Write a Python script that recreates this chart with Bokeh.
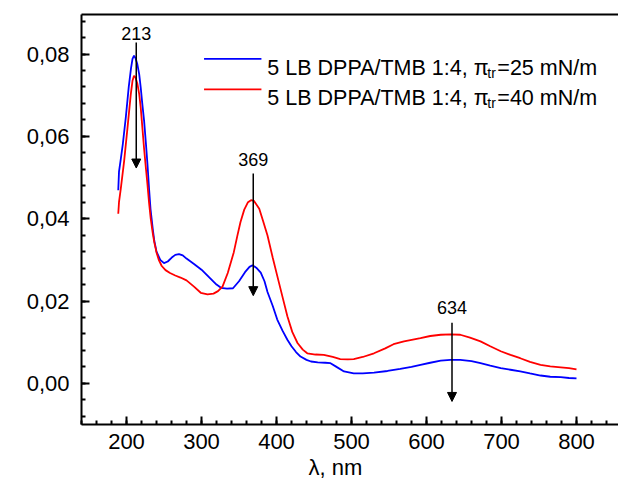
from bokeh.plotting import figure
from bokeh.models import Label, Arrow, NormalHead, FixedTicker, LinearAxis, Range1d, Title
from bokeh.embed import file_html
from bokeh.resources import INLINE

# ---------------- data ----------------
wl_blue = [189, 190, 192, 195, 199, 203, 206, 208, 210, 212, 214.5, 217, 219, 221, 223.5, 226, 228, 230,
           232, 235, 237, 240, 245, 250, 255, 260, 265, 270, 275, 280, 290, 300, 310, 320, 326, 334, 342,
           350, 358, 364, 368, 373, 379, 384, 388, 395, 401, 408, 414.5, 420, 426, 432, 440, 446, 455, 465,
           472, 480, 490, 503, 515, 530, 548, 565, 580, 592, 605, 619, 632, 645, 660, 672, 685, 699, 712,
           725, 738, 752, 765, 779, 790, 800]
abs_blue = [0.0469, 0.0514, 0.0540, 0.0580, 0.0645, 0.0720, 0.0765, 0.0788, 0.0796, 0.0790, 0.0775, 0.0750,
            0.0718, 0.0680, 0.0637, 0.0580, 0.0531, 0.0475, 0.0424, 0.0375, 0.0347, 0.0320, 0.0300, 0.0292,
            0.0296, 0.0305, 0.0312, 0.0314, 0.0311, 0.0303, 0.0290, 0.0276, 0.0258, 0.0240, 0.0232, 0.0230,
            0.0231, 0.0248, 0.0270, 0.0283, 0.0287, 0.0281, 0.0269, 0.0248, 0.0222, 0.0188, 0.0155, 0.0128,
            0.0106, 0.0090, 0.0076, 0.0065, 0.0057, 0.0053, 0.0051, 0.0050, 0.0049, 0.0040, 0.0029, 0.0024,
            0.0024, 0.0026, 0.0030, 0.0035, 0.0040, 0.0045, 0.0050, 0.0055, 0.0057, 0.0057, 0.0054, 0.0049,
            0.0043, 0.0037, 0.0033, 0.0029, 0.0024, 0.0019, 0.0016, 0.0015, 0.0013, 0.0012]

wl_red = [189, 190, 192.4, 196.8, 201.3, 205.7, 208, 210, 212, 214.6, 217, 219, 221, 223.4, 226, 228, 230,
          232.3, 235, 237, 240, 243, 247, 252, 258, 265, 272, 280, 290, 299, 308, 316, 322, 328, 335, 343,
          348, 352, 357, 362, 366, 370, 377, 382, 388, 395, 401, 408, 414.5, 421, 428, 435, 441, 452, 463,
          475, 485, 495, 503, 515, 530, 545, 556, 570, 592, 605, 619, 632, 645, 658, 672, 685, 699, 712,
          725, 738, 752, 765, 779, 790, 800]
abs_red = [0.0412, 0.0440, 0.0473, 0.0539, 0.0620, 0.0702, 0.0735, 0.0747, 0.0743, 0.0727, 0.0702, 0.0669,
           0.0625, 0.0571, 0.0520, 0.0482, 0.0440, 0.0400, 0.0365, 0.0343, 0.0318, 0.0300, 0.0285, 0.0275,
           0.0268, 0.0262, 0.0257, 0.0250, 0.0235, 0.0220, 0.0216, 0.0218, 0.0224, 0.0235, 0.0268, 0.0318,
           0.0360, 0.0392, 0.0422, 0.0440, 0.0445, 0.0443, 0.0424, 0.0395, 0.0359, 0.0305, 0.0261, 0.0210,
           0.0163, 0.0125, 0.0098, 0.0082, 0.0073, 0.0070, 0.0069, 0.0064, 0.0059, 0.0058, 0.0059, 0.0064,
           0.0073, 0.0085, 0.0095, 0.0102, 0.0110, 0.0115, 0.0118, 0.0119, 0.0118, 0.0111, 0.0102, 0.0090,
           0.0078, 0.0069, 0.0061, 0.0052, 0.0045, 0.0041, 0.0039, 0.0037, 0.0034]

series_names = ["5 LB DPPA/TMB 1:4, \u03c0", "5 LB DPPA/TMB 1:4, \u03c0"]
series_sub = ["tr", "tr"]
series_tail = ["=25 mN/m", "=40 mN/m"]
series_colors = ["#0000ff", "#ff0000"]

peak_nm = [213, 369, 634]
peak_text = ["213", "369", "634"]
arrow_top = [0.0828, 0.0510, 0.0147]
arrow_tip = [0.0523, 0.0213, -0.0044]
peak_label_y = [0.0850, 0.0544, 0.0184]

x_ticks = [200, 300, 400, 500, 600, 700, 800]
x_tick_labels = ["200", "300", "400", "500", "600", "700", "800"]
x_minor = list(range(140, 861, 20))
y_ticks = [0.0, 0.02, 0.04, 0.06, 0.08]
y_tick_labels = ["0,00", "0,02", "0,04", "0,06", "0,08"]
y_minor = [round(-0.008 + 0.004 * i, 3) for i in range(25)]
x_label = "\u03bb, nm"

FONT = "Liberation Sans"

# ---------------- figure ----------------
p = figure(width=618, height=481, x_range=Range1d(140, 856), y_range=Range1d(-0.01, 0.0896),
           output_backend="svg", toolbar_location=None,
           min_border_left=81, min_border_right=0, min_border_top=14, min_border_bottom=10)
p.outline_line_color = None
p.grid.visible = False
p.background_fill_color = "white"
p.border_fill_color = "white"

p.line(wl_blue, abs_blue, line_color=series_colors[0], line_width=1.8)
p.line(wl_red, abs_red, line_color=series_colors[1], line_width=1.8)

for ax in (p.xaxis[0], p.yaxis[0]):
    ax.axis_line_width = 2
    ax.axis_line_color = "black"
    ax.major_tick_line_width = 2
    ax.minor_tick_line_width = 2
    ax.major_tick_in = 8
    ax.major_tick_out = 0
    ax.minor_tick_in = 4
    ax.minor_tick_out = 0
    ax.major_label_text_font = FONT
    ax.major_label_text_font_size = "22px"
    ax.major_label_text_color = "black"

p.xaxis.ticker = FixedTicker(ticks=x_ticks, minor_ticks=x_minor)
p.xaxis.major_label_overrides = {t: s for t, s in zip(x_ticks, x_tick_labels)}
p.xaxis.major_label_standoff = 9
p.yaxis.ticker = FixedTicker(ticks=y_ticks, minor_ticks=y_minor)
p.yaxis.major_label_overrides = {t: s for t, s in zip(y_ticks, y_tick_labels)}
p.yaxis.major_label_standoff = 12

top_axis = LinearAxis(ticker=FixedTicker(ticks=[]), axis_line_width=2, axis_line_color="black",
                      major_tick_in=0, major_tick_out=0, minor_tick_in=0, minor_tick_out=0,
                      major_label_text_font_size="0px")
p.add_layout(top_axis, "above")

p.add_layout(Title(text=x_label, align="left", offset=227, text_font=FONT, text_font_size="22px",
                   text_font_style="normal", text_color="black", standoff=3), "below")

# peak arrows
for xv, t, y0, y1, ly in zip(peak_nm, peak_text, arrow_top, arrow_tip, peak_label_y):
    p.add_layout(Arrow(x_start=xv, y_start=y0, x_end=xv, y_end=y1, line_width=1.5, line_color="black",
                       end=NormalHead(size=9, fill_color="black", line_color="black")))
    p.add_layout(Label(x=xv, y=ly, text=t, text_font=FONT, text_font_size="18px",
                       text_align="center", text_baseline="middle", text_color="black"))

# legend (manual, for subscript)
leg_x0, leg_x1, leg_tx = 303.4, 379.9, 387.8
leg_line_y = [0.0788, 0.0714]
leg_base_y = [0.07657, 0.06922]
for i in range(2):
    p.add_layout(Arrow(x_start=leg_x0, y_start=leg_line_y[i], x_end=leg_x1, y_end=leg_line_y[i],
                       line_width=1.8, line_color=series_colors[i], end=None))
    p.add_layout(Label(x=leg_tx, y=leg_base_y[i], text=series_names[i], text_font=FONT,
                       text_font_size="21.5px", text_baseline="alphabetic", text_color="black"))
    p.add_layout(Label(x=leg_tx, y=leg_base_y[i], x_offset=220, y_offset=-5, text=series_sub[i],
                       text_font=FONT, text_font_size="14px", text_baseline="alphabetic", text_color="black"))
    p.add_layout(Label(x=leg_tx, y=leg_base_y[i], x_offset=230, text=series_tail[i], text_font=FONT,
                       text_font_size="21.5px", text_baseline="alphabetic", text_color="black"))

open("out.html", "w").write(file_html(p, INLINE))
